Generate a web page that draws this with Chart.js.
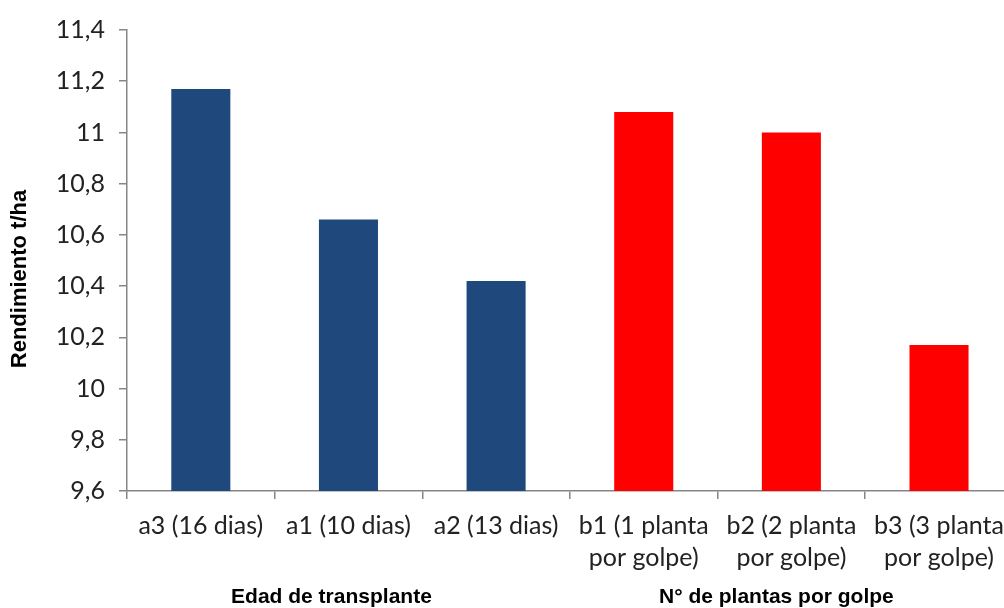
<!DOCTYPE html>
<html>
<head>
<meta charset="utf-8">
<script src="https://cdn.jsdelivr.net/npm/chart.js@4/dist/chart.umd.min.js"></script>
<style>
  html, body { margin: 0; padding: 0; background: #ffffff; overflow: hidden; }
  #wrap { width: 1004px; height: 608px; overflow: hidden; }
  canvas { display: block; }
</style>
</head>
<body>
<div id="wrap"><canvas id="c" width="1015" height="608"></canvas></div>
<script>
// Treatments (two factors), grouped left to right
const categories = [
  ['a3 (16 dias)'],
  ['a1 (10 dias)'],
  ['a2 (13 dias)'],
  ['b1 (1 planta', 'por golpe)'],
  ['b2 (2 planta', 'por golpe)'],
  ['b3 (3 planta', 'por golpe)']
];
// Yield in t/ha
const rendimiento = [11.17, 10.66, 10.42, 11.08, 11.00, 10.17];
const barColors = ['#1F497D', '#1F497D', '#1F497D', '#FF0000', '#FF0000', '#FF0000'];
// Y axis range and step
const yMin = 9.6, yMax = 11.4, yStep = 0.2;
// Group captions under the axis
const groupTitles = ['Edad de transplante', 'N° de plantas por golpe'];
const yTitle = 'Rendimiento t/ha';

const axisGray = '#868686';
const tickFont = { family: 'Lato, "Open Sans", sans-serif', size: 25 };
const titleFont = 'bold 21px "Liberation Sans", Arial, sans-serif';
const yTitleFont = 'bold 22px "Liberation Sans", Arial, sans-serif';

// Draws the axis title and the two group captions
const captions = {
  id: 'captions',
  afterDraw(chart) {
    const ctx = chart.ctx;
    const xs = chart.scales.x;
    ctx.save();
    ctx.fillStyle = '#000000';
    ctx.font = titleFont;
    ctx.textAlign = 'center';
    ctx.textBaseline = 'middle';
    const g1 = (xs.getPixelForValue(0) + xs.getPixelForValue(2)) / 2 - 17;
    const g2 = (xs.getPixelForValue(3) + xs.getPixelForValue(5)) / 2 - 15;
    ctx.fillText(groupTitles[0], g1, 597);
    ctx.fillText(groupTitles[1], g2, 597);
    ctx.font = yTitleFont;
    ctx.translate(20, 279);
    ctx.rotate(-Math.PI / 2);
    ctx.fillText(yTitle, 0, 0);
    ctx.restore();
  }
};

new Chart(document.getElementById('c'), {
  type: 'bar',
  data: {
    labels: categories,
    datasets: [{
      data: rendimiento,
      backgroundColor: barColors,
      borderWidth: 0,
      categoryPercentage: 1.0,
      barPercentage: 0.4
    }]
  },
  options: {
    responsive: false,
    devicePixelRatio: 1,
    animation: false,
    layout: { padding: { top: 30, right: 0, left: 0, bottom: 0 } },
    plugins: { legend: { display: false }, tooltip: { enabled: false } },
    scales: {
      x: {
        grid: {
          display: true,
          drawOnChartArea: false,
          drawTicks: true,
          tickLength: 8,
          color: axisGray,
          lineWidth: 1.5
        },
        border: { display: true, color: axisGray, width: 1.5 },
        ticks: {
          color: '#222222',
          font: { ...tickFont, lineHeight: 1.28 },
          padding: 11,
          maxRotation: 0,
          minRotation: 0,
          autoSkip: false
        },
        afterFit(scale) { scale.height = 117; }
      },
      y: {
        min: yMin,
        max: yMax,
        grid: {
          display: true,
          drawOnChartArea: false,
          drawTicks: true,
          tickLength: 8,
          color: axisGray,
          lineWidth: 1.5
        },
        border: { display: true, color: axisGray, width: 1.5 },
        ticks: {
          stepSize: yStep,
          color: '#222222',
          font: tickFont,
          padding: 14,
          callback: (v) => {
            const r = Math.round(v * 10) / 10;
            return String(r).replace('.', ',');
          }
        },
        afterFit(scale) { scale.width = 127; }
      }
    }
  },
  plugins: [captions]
});
</script>
</body>
</html>
